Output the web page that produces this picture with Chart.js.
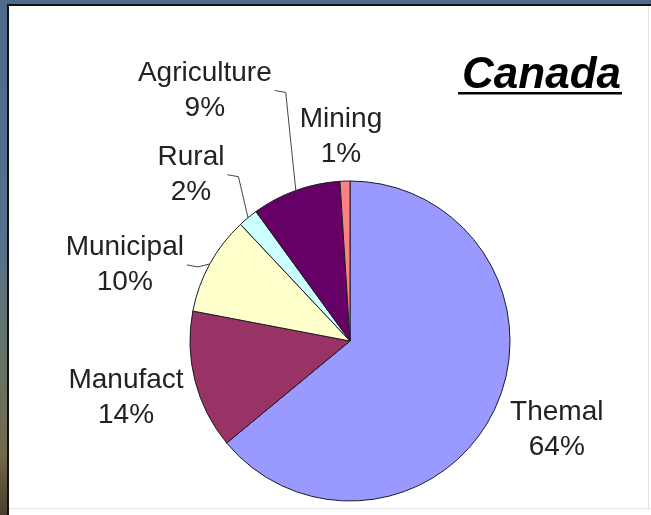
<!DOCTYPE html>
<html>
<head>
<meta charset="utf-8">
<title>Canada</title>
<script src="https://cdn.jsdelivr.net/npm/chart.js@4"></script>
<style>
    html, body {
        margin: 0;
        padding: 0;
    }
    body {
        width: 651px;
        height: 515px;
        position: relative;
        overflow: hidden;
        background: linear-gradient(to bottom, #4d6a8d 0%, #55718f 45%, #667466 70%, #73684a 88%, #4a3e2c 100%);
    }
    #panel {
        position: absolute;
        left: 7px;
        top: 4px;
        width: 644px;
        height: 511px;
        background: #ffffff;
        border-left: 2px solid #111;
        border-top: 2px solid #111;
    }
    #chart {
        position: absolute;
        left: 0;
        top: 0;
    }
</style>
</head>
<body>
<div id="panel"></div>
<canvas id="chart" width="651" height="515"></canvas>
<script>
    // Sources, going clockwise from twelve o'clock
    const categories = ['Themal', 'Manufact', 'Municipal', 'Rural', 'Agriculture', 'Mining'];
    const shares = [64, 14, 10, 2, 9, 1];

    const sliceColors = ['#9999ff', '#993366', '#ffffcc', '#ccffff', '#660066', '#ff8080'];

    // Where each label sits relative to the middle of its slice's rim,
    // and whether a leader line joins them
    const labelPlacement = [
        { dx: 62, dy: 21, leader: false },
        { dx: -69, dy: 17, leader: false },
        { dx: -85, dy: 1, leader: true },
        { dx: -57, dy: -43, leader: true },
        { dx: -91, dy: -100, leader: true },
        { dx: -4, dy: -44, leader: false }
    ];

    const FONT = '"Liberation Sans", Arial, sans-serif';

    const sliceLabels = {
        id: 'sliceLabels',
        afterDatasetsDraw(chart) {
            const ctx = chart.ctx;
            const meta = chart.getDatasetMeta(0);
            const lineGap = 35;

            ctx.save();
            ctx.font = '28px ' + FONT;
            ctx.textAlign = 'center';
            ctx.textBaseline = 'middle';

            meta.data.forEach((arc, i) => {
                const p = arc.getProps(['x', 'y', 'startAngle', 'endAngle', 'outerRadius'], true);
                const mid = (p.startAngle + p.endAngle) / 2;
                const ex = p.x + Math.cos(mid) * p.outerRadius;
                const ey = p.y + Math.sin(mid) * p.outerRadius;
                const place = labelPlacement[i];
                const cx = ex + place.dx;
                const cy = ey + place.dy;

                const name = chart.data.labels[i];
                const pct = chart.data.datasets[0].data[i] + '%';

                ctx.fillStyle = '#222';
                ctx.fillText(name, cx, cy - lineGap / 2);
                ctx.fillText(pct, cx, cy + lineGap / 2);

                if (place.leader) {
                    const half = Math.max(ctx.measureText(name).width, ctx.measureText(pct).width) / 2;
                    const sx = cx + half + 3;
                    ctx.strokeStyle = '#444';
                    ctx.lineWidth = 1;
                    ctx.beginPath();
                    ctx.moveTo(sx, cy);
                    ctx.lineTo(sx + 11, cy + 2);
                    ctx.lineTo(ex, ey);
                    ctx.stroke();
                }
            });

            // Heading, underlined
            ctx.font = 'italic bold 44px ' + FONT;
            ctx.textAlign = 'right';
            ctx.textBaseline = 'alphabetic';
            ctx.fillStyle = '#000';
            const right = 621;
            const w = ctx.measureText('Canada').width;
            ctx.fillText('Canada', right, 88);
            ctx.fillRect(right - w - 4, 92, w + 5, 2.5);

            // faint inner edge of the frame
            ctx.fillStyle = '#e4e4e4';
            ctx.fillRect(9, 508, 642, 1);
            ctx.fillRect(648, 6, 1, 502);

            ctx.restore();
        }
    };

    new Chart(document.getElementById('chart').getContext('2d'), {
        type: 'pie',
        data: {
            labels: categories,
            datasets: [{
                data: shares,
                backgroundColor: sliceColors,
                borderColor: '#1a1a2a',
                borderWidth: 1,
                hoverOffset: 0
            }]
        },
        options: {
            responsive: false,
            animation: false,
            events: [],
            radius: 160,
            layout: {
                padding: { left: 49, right: 0, top: 167, bottom: 0 }
            },
            plugins: {
                legend: { display: false },
                tooltip: { enabled: false },
                title: { display: false }
            }
        },
        plugins: [sliceLabels]
    });
</script>
</body>
</html>
